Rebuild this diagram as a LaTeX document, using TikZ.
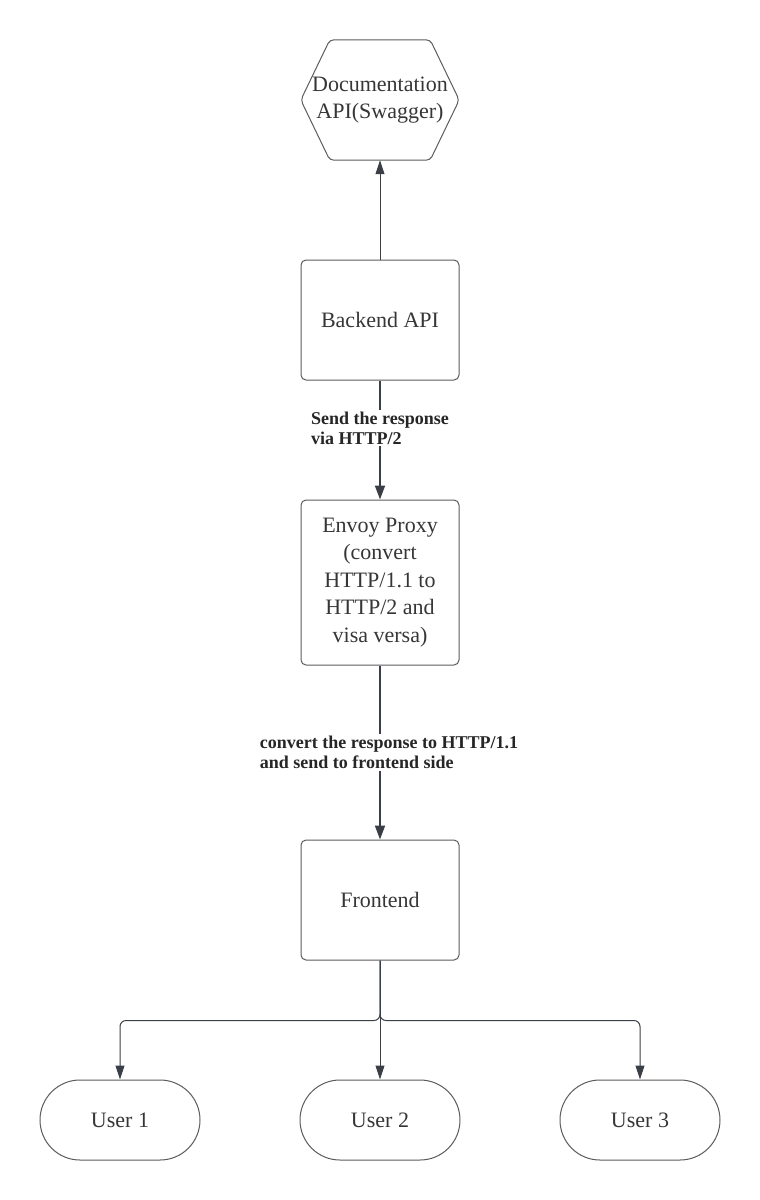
\documentclass[tikz,border=0pt]{standalone}
\usepackage{fontspec}
\setmainfont{Liberation Serif}
\usetikzlibrary{positioning, arrows.meta, calc}
\definecolor{linegray}{HTML}{3A3F47}
\definecolor{boxgray}{HTML}{5C5C5C}
\definecolor{txtgray}{HTML}{363636}

\begin{document}
\begin{tikzpicture}[x=1pt, y=-1pt,
    every node/.style={text=txtgray, font=\fontsize{22}{27.6}\selectfont, align=center},
    block/.style={draw=boxgray, line width=1pt, rounded corners=5, minimum width=158, minimum height=120},
    usr/.style={draw=boxgray, line width=1pt, rounded corners=40, minimum width=160, minimum height=80},
    conn/.style={draw=linegray, line width=1pt, -{Triangle[width=9pt,length=14pt]}},
    thick conn/.style={conn, line width=1.8pt, -{Triangle[width=10pt,length=14pt]}},
    lbl/.style={fill=white, align=left, text=black!85, inner sep=2pt,
                font=\bfseries\fontsize{18}{19.5}\selectfont}]
\useasboundingbox (0,0) rectangle (760,1200);
\node (doc) at (380,100) [minimum width=158, minimum height=120] {Documentation\\API(Swagger)};
\draw[boxgray, line width=1pt, rounded corners=4] (doc.west) -- ($(doc.north west)+(29,0)$)
  -- ($(doc.north east)+(-29,0)$) -- (doc.east) -- ($(doc.south east)+(-29,0)$)
  -- ($(doc.south west)+(29,0)$) -- cycle;
\node[block] (back) at (380,320) {Backend API};
\node[block, minimum height=165] (envoy) at (380,582.5) {Envoy Proxy\\(convert\\HTTP/1.1 to\\HTTP/2 and\\visa versa)};
\node[block] (front) at (380,900) {Frontend};
\node[usr] (user1) at (120,1120) {User 1};
\node[usr] (user2) at (380,1120) {User 2};
\node[usr] (user3) at (640,1120) {User 3};
% connectors
\draw[conn] (back) -- (doc);
\draw[thick conn] (back) -- node[lbl, pos=0.4] {Send the response\\via HTTP/2} (envoy);
\draw[thick conn] (envoy) -- node[lbl, xshift=9] {convert the response to HTTP/1.1\\and send to frontend side} (front);
\draw[conn, rounded corners=6] (front.south) -- ++(0,60) -| (user1.north);
\draw[conn] (front.south) -- (user2.north);
\draw[conn, rounded corners=6] (front.south) -- ++(0,60) -| (user3.north);
\end{tikzpicture}
\end{document}
